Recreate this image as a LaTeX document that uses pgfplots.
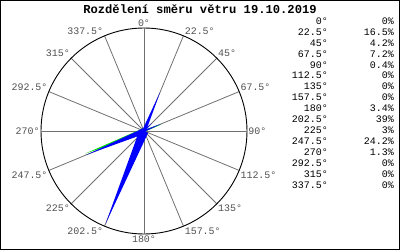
\documentclass[border=0pt]{standalone}
\usepackage{fontspec}
\setmonofont{Liberation Mono}
\usepackage{pgfplots}
\pgfplotsset{compat=1.18}
\usepgfplotslibrary{polar}
\definecolor{spoke}{HTML}{707070}
\definecolor{spokemain}{HTML}{707070}
\definecolor{lbl}{HTML}{505050}
\definecolor{petal}{HTML}{0000FF}
\definecolor{petalgreen}{HTML}{00E000}
\begin{document}
\begin{tikzpicture}[x=1bp,y=1bp]
\useasboundingbox (0,0) rectangle (400,250);
\draw[line width=1bp] (0.5,0.5) rectangle (399.5,249.5);
\begin{polaraxis}[
  at={(144bp,119bp)}, anchor=center,
  scale only axis, width=206bp, height=206bp,
  xmin=0, xmax=360, ymin=0, ymax=40,
  xtick={22.5,45,67.5,112.5,135,157.5,202.5,225,247.5,292.5,315,337.5},
  xticklabels={},
  extra x ticks={0,90,180,270},
  extra x tick labels={},
  extra x tick style={major grid style={spokemain, line width=0.9bp}},
  ytick=\empty,
  xmajorgrids,
  major grid style={spoke, line width=0.8bp},
  major tick length=0pt,
  x axis line style={black, line width=0.9bp},
  y axis line style={draw=none},
  clip=false,
]
% green under-series (slightly rotated), compass 249 and 69
\addplot[fill=petalgreen, draw=none] coordinates {(201,24.4) (291,1.1) (111,1.1) (201,24.4)};
\addplot[fill=petalgreen, draw=none] coordinates {(21,7.3) (111,0.4) (291,0.4) (21,7.3)};
% blue petals: tip at (90-compass, percent), base half-width at +-90 deg
\addplot[fill=petal, draw=none] coordinates {(67.5,16.5) (157.5,0.74) (337.5,0.74) (67.5,16.5)};   % 22.5  16.5%
\addplot[fill=petal, draw=none] coordinates {(45,4.2) (135,0.3) (315,0.3) (45,4.2)};               % 45    4.2%
\addplot[fill=petal, draw=none] coordinates {(22.5,7.2) (112.5,0.35) (292.5,0.35) (22.5,7.2)};     % 67.5  7.2%
\addplot[fill=petal, draw=none] coordinates {(0,0.4) (90,0.1) (270,0.1) (0,0.4)};                 % 90    0.4%
\addplot[fill=petal, draw=none] coordinates {(270,3.4) (0,0.3) (180,0.3) (270,3.4)};               % 180   3.4%
\addplot[fill=petal, draw=none] coordinates {(247.5,39) (337.5,1.75) (157.5,1.75) (247.5,39)};     % 202.5 39%
\addplot[fill=petal, draw=none] coordinates {(225,3) (315,0.3) (135,0.3) (225,3)};                 % 225   3%
\addplot[fill=petal, draw=none] coordinates {(202.5,24.2) (292.5,1.09) (112.5,1.09) (202.5,24.2)}; % 247.5 24.2%
\addplot[fill=petal, draw=none] coordinates {(180,1.3) (270,0.15) (90,0.15) (180,1.3)};            % 270   1.3%
% direction labels at the ends of the spokes
\begin{scope}[every node/.style={font=\ttfamily\fontsize{10}{10}\selectfont, text=lbl, inner sep=1.2bp}]
\node[anchor=south]      at (axis cs:90,40)    {0°};
\node[anchor=south west] at (axis cs:67.5,40)  {22.5°};
\node[anchor=south west] at (axis cs:45,40)    {45°};
\node[anchor=south west] at (axis cs:22.5,40)  {67.5°};
\node[anchor=west]       at (axis cs:0,40)     {90°};
\node[anchor=north west] at (axis cs:337.5,40) {112.5°};
\node[anchor=north west] at (axis cs:315,40)   {135°};
\node[anchor=north west] at (axis cs:292.5,40) {157.5°};
\node[anchor=north]      at (axis cs:270,40)   {180°};
\node[anchor=north east] at (axis cs:247.5,40) {202.5°};
\node[anchor=north east] at (axis cs:225,40)   {225°};
\node[anchor=north east] at (axis cs:202.5,40) {247.5°};
\node[anchor=east]       at (axis cs:180,40)   {270°};
\node[anchor=south east] at (axis cs:157.5,40) {292.5°};
\node[anchor=south east] at (axis cs:135,40)   {315°};
\node[anchor=south east] at (axis cs:112.5,40) {337.5°};
\end{scope}
\end{polaraxis}
\node[font=\ttfamily\bfseries\fontsize{12.2}{12}\selectfont] at (200,241) {Rozdělení směru větru 19.10.2019};
\begin{scope}[every node/.style={font=\ttfamily\fontsize{10}{10}\selectfont, anchor=east, inner sep=0pt}]
\foreach \a/\p [count=\i from 0] in {0°/0\%,22.5°/16.5\%,45°/4.2\%,67.5°/7.2\%,90°/0.4\%,112.5°/0\%,135°/0\%,157.5°/0\%,180°/3.4\%,202.5°/39\%,225°/3\%,247.5°/24.2\%,270°/1.3\%,292.5°/0\%,315°/0\%,337.5°/0\%}{
  \node at (328,{229-10.93*\i}) {\a};
  \node at (394,{229-10.93*\i}) {\p};
}
\end{scope}
\end{tikzpicture}
\end{document}
